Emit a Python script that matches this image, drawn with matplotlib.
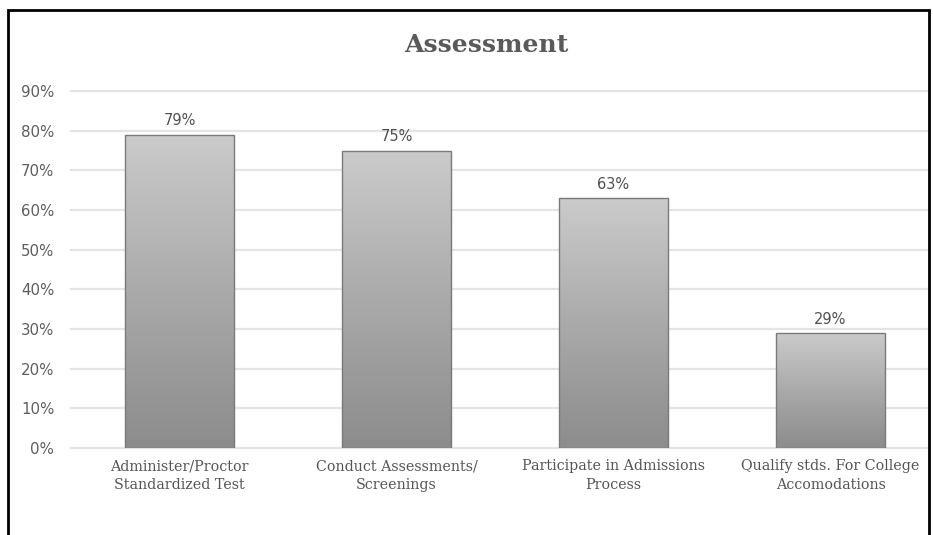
import numpy as np
import matplotlib.pyplot as plt
from matplotlib.patches import Rectangle
from matplotlib.colors import LinearSegmentedColormap

categories = ['Administer/Proctor\nStandardized Test',
              'Conduct Assessments/\nScreenings',
              'Participate in Admissions\nProcess',
              'Qualify stds. For College\nAccomodations']
values = [0.79, 0.75, 0.63, 0.29]
yticks = [0, 0.1, 0.2, 0.3, 0.4, 0.5, 0.6, 0.7, 0.8, 0.9]

W, H = 933, 535
fig = plt.figure(figsize=(W / 100, H / 100), dpi=100)
ax = fig.add_axes([71 / W, 87 / H, (928 - 71) / W, (444 - 87) / H])

x = np.arange(len(categories))
bars = ax.bar(x, values, width=0.5, color='none', edgecolor='#7a7a7a', linewidth=1.0, zorder=3)

# vertical gradient inside each bar
cmap = LinearSegmentedColormap.from_list('g', ['#8c8c8c', '#aaaaaa', '#cbcbcb'])
grad = np.linspace(0, 1, 256).reshape(-1, 1)
for b in bars:
    x0, w, h = b.get_x(), b.get_width(), b.get_height()
    im = ax.imshow(grad, extent=[x0, x0 + w, 0, h], origin='lower', cmap=cmap,
                   aspect='auto', zorder=2)
    im.set_clip_path(b)
    ax.text(x0 + w / 2, h + 0.016, f'{round(h * 100)}%', ha='center', va='bottom',
            fontsize=10.5, color='#505050', family='DejaVu Sans')

ax.set_xlim(-0.5, 3.449)
ax.set_ylim(0, 0.9)
ax.set_yticks(yticks)
ax.set_yticklabels([f'{int(round(t * 100))}%' for t in yticks])
ax.set_xticks(x)
ax.set_xticklabels(categories, family='DejaVu Serif', fontsize=10.3, color='#555555',
                   linespacing=1.4)
ax.tick_params(axis='y', length=0, pad=12, labelsize=10.8, labelcolor='#5e5e5e')
ax.tick_params(axis='x', length=0, pad=8)
ax.yaxis.grid(True, color='#e4e4e4', linewidth=1.6, zorder=0)
for gl in ax.get_ygridlines():
    gl.set_clip_on(False)
ax.set_axisbelow(True)
for s in ax.spines.values():
    s.set_visible(False)

fig.text(486 / W, 1 - 45 / H, 'Assessment', ha='center', va='center', fontsize=18,
         fontweight='bold', family='DejaVu Serif', color='#5a5a5a')

# outer chart border
fig.patches.append(Rectangle((8 / W, -0.05), (929 - 8) / W, 1.05 - 10 / H,
                             transform=fig.transFigure, fill=False, edgecolor='black',
                             linewidth=2))

fig.savefig('out.png', dpi=100)
